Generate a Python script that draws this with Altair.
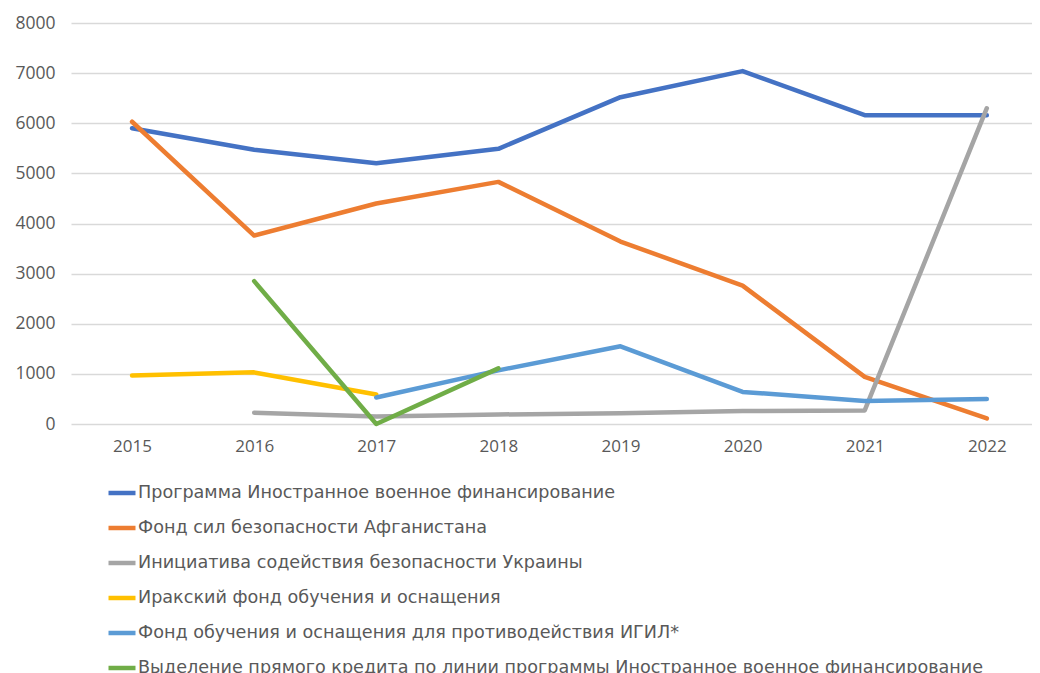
import altair as alt
import pandas as pd

years = [2015, 2016, 2017, 2018, 2019, 2020, 2021, 2022]
series_names = [
    "Программа Иностранное военное финансирование",
    "Фонд сил безопасности Афганистана",
    "Инициатива содействия безопасности Украины",
    "Иракский фонд обучения и оснащения",
    "Фонд обучения и оснащения для противодействия ИГИЛ*",
    "Выделение прямого кредита по линии программы Иностранное военное финансирование",
]
fmf = [5900, 5470, 5200, 5490, 6520, 7040, 6160, 6160]
afghan = [6030, 3760, 4400, 4830, 3640, 2760, 940, 110]
ukraine = [None, 225, 150, 190, 215, 260, 270, 6300]
iraq = [970, 1030, 590, None, None, None, None, None]
isis = [None, None, 530, 1070, 1550, 640, 460, 500]
credit = [None, 2850, 0, 1110, None, None, None, None]
colors = ["#4472C4", "#ED7D31", "#A5A5A5", "#FFC000", "#5B9BD5", "#70AD47"]

rows = []
for name, vals in zip(series_names, [fmf, afghan, ukraine, iraq, isis, credit]):
    for y, v in zip(years, vals):
        if v is not None:
            rows.append({"year": y, "value": v, "series": name})
df = pd.DataFrame(rows)

chart = alt.Chart(df).mark_line(strokeWidth=4.5, strokeCap="round", strokeJoin="round").encode(
    x=alt.X("year:Q", scale=alt.Scale(domain=[2014.5, 2022.37], nice=False, zero=False),
            axis=alt.Axis(values=years, format="d", title=None, grid=False, domain=False,
                          ticks=False, labelPadding=14, labelFontSize=17, labelColor="#595959",
                          labelFont="Open Sans")),
    y=alt.Y("value:Q", scale=alt.Scale(domain=[0, 8000], nice=False),
            axis=alt.Axis(values=list(range(0, 8001, 1000)), format="d", title=None, domain=False,
                          ticks=False, labelPadding=16, labelFontSize=17.5, labelColor="#595959",
                          labelFont="Open Sans", gridColor="#D9D9D9", gridWidth=1.5)),
    color=alt.Color("series:N", sort=series_names,
                    scale=alt.Scale(domain=series_names, range=colors),
                    legend=alt.Legend(title=None, orient="none", legendX=35, legendY=454,
                                      direction="vertical", symbolType="stroke",
                                      symbolSize=729, symbolStrokeWidth=4.5,
                                      labelFontSize=17.6, labelColor="#595959", labelFont="DejaVu Sans",
                                      labelOffset=0, rowPadding=10, padding=0, labelLimit=1000)),
    order=alt.Order("year:Q"),
).properties(
    width=961, height=401,
    autosize=alt.AutoSizeParams(type="none"),
    padding={"left": 63, "top": 15, "right": 0, "bottom": 250},
).configure_view(stroke=None)

chart.save("out.html", embed_options={"renderer": "svg", "actions": False})
